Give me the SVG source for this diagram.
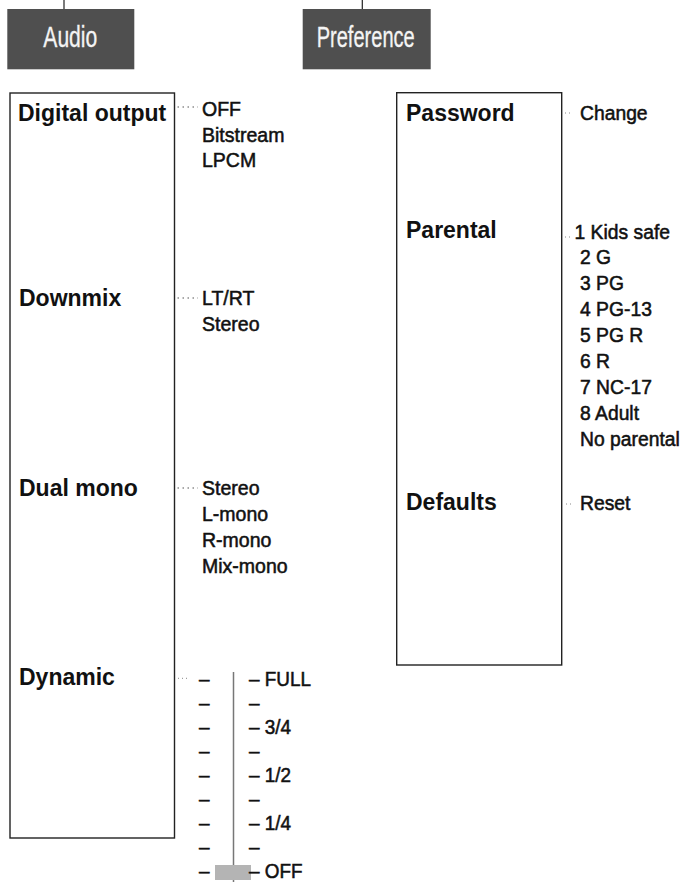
<svg xmlns="http://www.w3.org/2000/svg" width="683" height="882" viewBox="0 0 683 882">
<style>
.hdr{fill:#4f4f4f}
.hdrt{font-family:"Liberation Sans",Arial,sans-serif;font-size:29px;fill:#f4f4f4;stroke:#f4f4f4;stroke-width:0.3}
.box{fill:#fff;stroke:#222;stroke-width:1.4}
.lbl{font-family:"Liberation Sans",Arial,sans-serif;font-size:23px;font-weight:bold;fill:#111}
.opt{font-family:"Liberation Sans",Arial,sans-serif;font-size:21px;fill:#111;stroke:#111;stroke-width:0.55}
.dot{stroke:#555;stroke-width:1.2;stroke-dasharray:1.5 3.5;fill:none}
.dot2{stroke:#888;stroke-width:1;stroke-dasharray:1 3;fill:none}
.tick{stroke:#222;stroke-width:1.2;fill:none}
</style>
<rect width="683" height="882" fill="#fff"/>
<g id="connectors">
<line class="tick" x1="64" y1="0" x2="64" y2="9"/>
<line class="tick" x1="362.3" y1="0" x2="362.3" y2="9"/>
<line class="dot" x1="177.5" y1="107" x2="198" y2="107"/>
<line class="dot" x1="177.5" y1="298" x2="198" y2="298"/>
<line class="dot" x1="177.5" y1="488" x2="198" y2="488"/>
<line class="dot2" x1="178" y1="678.3" x2="188" y2="678.3"/>
<line class="dot2" x1="565" y1="113" x2="572" y2="113"/>
<line class="dot2" x1="565" y1="237" x2="572" y2="237"/>
<line class="dot2" x1="566" y1="504" x2="574" y2="504"/>
</g>
<g id="header-audio">
<rect class="hdr" x="7.3" y="9" width="127" height="60.3"/>
<text class="hdrt" x="43.3" y="46.7" textLength="54" lengthAdjust="spacingAndGlyphs">Audio</text>
</g>
<g id="header-preference">
<rect class="hdr" x="302.7" y="9" width="128" height="60.3"/>
<text class="hdrt" x="316.7" y="46.7" textLength="98" lengthAdjust="spacingAndGlyphs">Preference</text>
</g>
<g id="box-audio">
<rect class="box" x="10" y="93" width="164.5" height="745"/>
<text class="lbl" x="18" y="121">Digital output</text>
<text class="lbl" x="19" y="306">Downmix</text>
<text class="lbl" x="19" y="496">Dual mono</text>
<text class="lbl" x="19" y="685">Dynamic</text>
</g>
<g id="box-preference">
<rect class="box" x="396.7" y="92.7" width="165" height="572.3"/>
<text class="lbl" x="406" y="121">Password</text>
<text class="lbl" x="406" y="238">Parental</text>
<text class="lbl" x="406" y="510">Defaults</text>
</g>
<g id="options-digital-output" transform="translate(202 0) scale(0.93 1)">
<text class="opt" x="0" y="116">OFF</text>
<text class="opt" x="0" y="142">Bitstream</text>
<text class="opt" x="0" y="167">LPCM</text>
</g>
<g id="options-downmix" transform="translate(202 0) scale(0.93 1)">
<text class="opt" x="0" y="305">LT/RT</text>
<text class="opt" x="0" y="331">Stereo</text>
</g>
<g id="options-dual-mono" transform="translate(202 0) scale(0.93 1)">
<text class="opt" x="0" y="495">Stereo</text>
<text class="opt" x="0" y="521">L-mono</text>
<text class="opt" x="0" y="547">R-mono</text>
<text class="opt" x="0" y="573">Mix-mono</text>
</g>
<g id="options-dynamic">
<line x1="233.5" y1="672" x2="233.5" y2="882" stroke="#777" stroke-width="1.5"/>
<rect x="215" y="865" width="36" height="15" fill="#b4b4b4"/>
<g transform="translate(199 0) scale(0.9 1)">
<text class="opt" x="0" y="686.5">–</text>
<text class="opt" x="0" y="710.4">–</text>
<text class="opt" x="0" y="734.3">–</text>
<text class="opt" x="0" y="758.2">–</text>
<text class="opt" x="0" y="782.1">–</text>
<text class="opt" x="0" y="806">–</text>
<text class="opt" x="0" y="829.9">–</text>
<text class="opt" x="0" y="853.8">–</text>
<text class="opt" x="0" y="877.7">–</text>
</g>
<g transform="translate(249 0) scale(0.9 1)">
<text class="opt" x="0" y="686.5">– FULL</text>
<text class="opt" x="0" y="710.4">–</text>
<text class="opt" x="0" y="734.3">– 3/4</text>
<text class="opt" x="0" y="758.2">–</text>
<text class="opt" x="0" y="782.1">– 1/2</text>
<text class="opt" x="0" y="806">–</text>
<text class="opt" x="0" y="829.9">– 1/4</text>
<text class="opt" x="0" y="853.8">–</text>
<text class="opt" x="0" y="877.7">– OFF</text>
</g>
</g>
<g id="options-password" transform="translate(580 0) scale(0.92 1)">
<text class="opt" x="0" y="120">Change</text>
</g>
<g id="options-parental" transform="translate(580 0) scale(0.92 1)">
<text class="opt" x="-6" y="239">1 Kids safe</text>
<text class="opt" x="0" y="264">2 G</text>
<text class="opt" x="0" y="290">3 PG</text>
<text class="opt" x="0" y="316">4 PG-13</text>
<text class="opt" x="0" y="342">5 PG R</text>
<text class="opt" x="0" y="368">6 R</text>
<text class="opt" x="0" y="394">7 NC-17</text>
<text class="opt" x="0" y="420">8 Adult</text>
<text class="opt" x="0" y="446">No parental</text>
</g>
<g id="options-defaults" transform="translate(580 0) scale(0.92 1)">
<text class="opt" x="0" y="510">Reset</text>
</g>
</svg>
